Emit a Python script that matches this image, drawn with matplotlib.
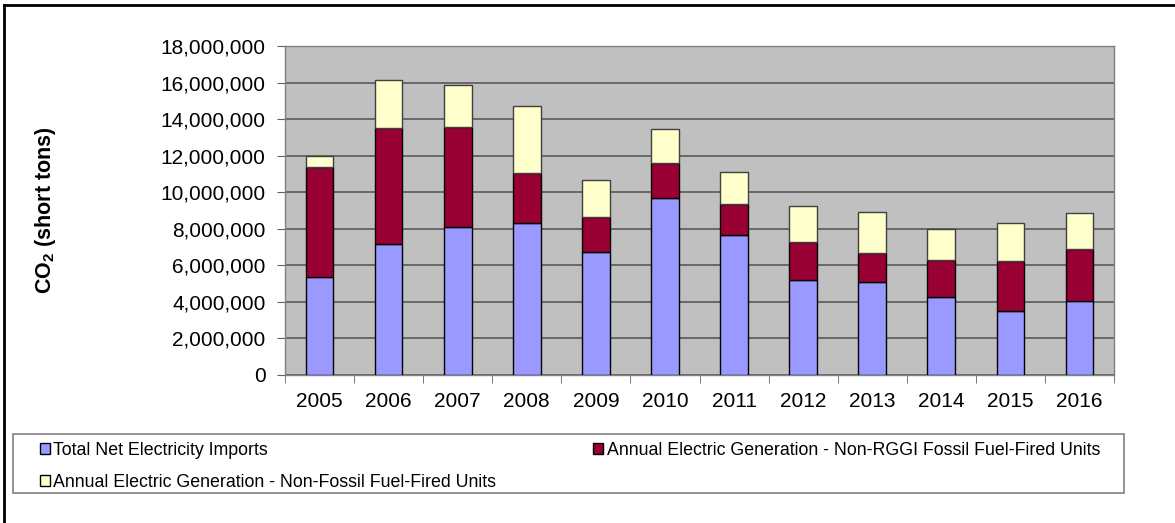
import matplotlib.pyplot as plt
from matplotlib.patches import Patch, Rectangle
from matplotlib.ticker import FuncFormatter, MultipleLocator
import numpy as np

plt.rcParams["font.family"] = ["Liberation Sans", "DejaVu Sans"]
plt.rcParams["mathtext.fontset"] = "custom"
plt.rcParams["mathtext.rm"] = "Liberation Sans"
plt.rcParams["mathtext.bf"] = "Liberation Sans:bold"

years = ["2005", "2006", "2007", "2008", "2009", "2010",
         "2011", "2012", "2013", "2014", "2015", "2016"]
# segment values, short tons
imports = [5380000, 7150000, 8080000, 8310000, 6710000, 9660000,
           7660000, 5200000, 5110000, 4290000, 3500000, 4050000]
non_rggi_fossil = [6020000, 6340000, 5470000, 2720000, 1920000, 1960000,
                   1710000, 2060000, 1560000, 1980000, 2740000, 2840000]
non_fossil = [580000, 2650000, 2310000, 3680000, 2020000, 1840000,
              1750000, 2000000, 2230000, 1700000, 2070000, 1950000]

c_blue = "#9999FF"
c_red = "#990033"
c_yellow = "#FFFFCC"

W, H = 1175, 523
fig = plt.figure(figsize=(W / 100, H / 100), dpi=100)
ax = fig.add_axes([285 / W, 1 - 375 / H, (1114 - 285) / W, (375 - 46) / H])
ax.set_facecolor("#C0C0C0")

x = np.arange(len(years))
w = 0.4
b1 = np.array(imports)
b2 = b1 + np.array(non_rggi_fossil)
ax.bar(x, imports, w, color=c_blue, edgecolor="black", linewidth=1, zorder=3)
ax.bar(x, non_rggi_fossil, w, bottom=b1, color=c_red, edgecolor="black", linewidth=1, zorder=3)
ax.bar(x, non_fossil, w, bottom=b2, color=c_yellow, edgecolor="#404040", linewidth=1, zorder=3)

ax.set_xlim(-0.5, len(years) - 0.5)
ax.set_ylim(0, 18000000)
ax.yaxis.set_major_locator(MultipleLocator(2000000))
ax.yaxis.set_major_formatter(FuncFormatter(lambda v, p: f"{int(v):,}"))
ax.grid(axis="y", color="#505050", linewidth=1.1, zorder=1)
ax.set_xticks(x)
ax.set_xticklabels(years)
ax.set_xticks(np.arange(len(years) + 1) - 0.5, minor=True)
ax.tick_params(axis="x", which="major", length=0, pad=12, labelsize=15)
ax.tick_params(axis="x", which="minor", length=6, color="#606060")
ax.tick_params(axis="y", length=6, pad=8, color="#606060", labelsize=15)
for s in ax.spines.values():
    s.set_color("#808080")
    s.set_linewidth(1)

ax.set_ylabel(r"CO$_\mathbf{2}$ (short tons)", fontsize=15.5, fontweight="bold", labelpad=74)

# legend box
fig.add_artist(Rectangle((13 / W, 1 - 493 / H), (1124 - 13) / W, 59 / H,
                         transform=fig.transFigure, facecolor="white",
                         edgecolor="#808080", linewidth=1.2))
handles = [Patch(facecolor=c_blue, edgecolor="black", label="Total Net Electricity Imports"),
           Patch(facecolor=c_yellow, edgecolor="black", label="Annual Electric Generation - Non-Fossil Fuel-Fired Units"),
           Patch(facecolor=c_red, edgecolor="black", label="Annual Electric Generation - Non-RGGI Fossil Fuel-Fired Units")]
fig.legend(handles=handles, ncol=2, mode="expand",
           bbox_to_anchor=(40 / W, 1 - 496 / H, (1100 - 40) / W, 59 / H),
           loc="center left", fontsize=12.8, frameon=False,
           handlelength=0.55, handleheight=0.55, handletextpad=0.2,
           borderaxespad=0, labelspacing=0.85, borderpad=0.0)

# outer border (top and left visible in the reference)
fig.add_artist(plt.Line2D([4 / W, 4 / W], [0, 1 - 5 / H], color="black", linewidth=2, transform=fig.transFigure))
fig.add_artist(plt.Line2D([4 / W, 1], [1 - 5 / H, 1 - 5 / H], color="black", linewidth=2, transform=fig.transFigure))

fig.savefig("out.png", dpi=100)
